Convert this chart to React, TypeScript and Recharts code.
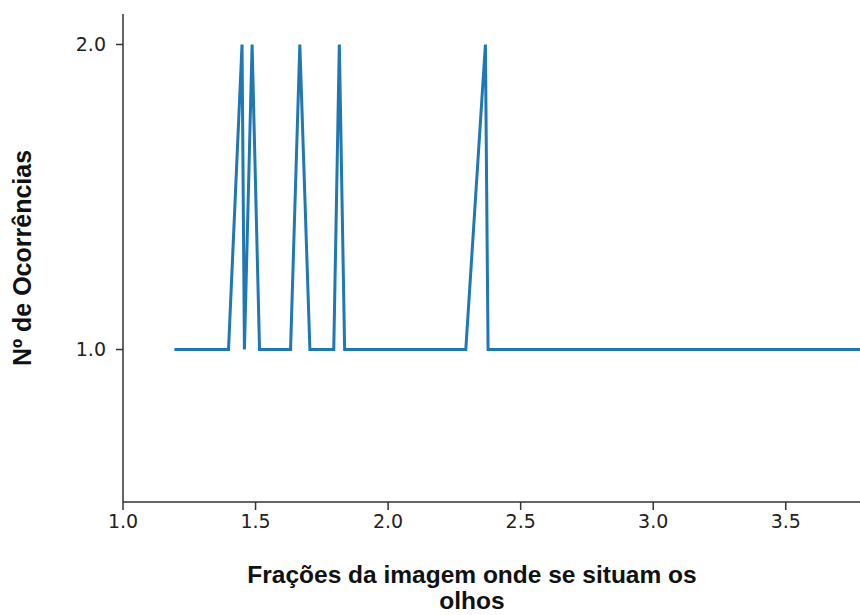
import { LineChart, Line, XAxis, YAxis, Label } from "recharts";

// fraction of the image where the eyes sit, and how often each occurred
const fractions = [
  1.194, 1.398, 1.449, 1.458, 1.487, 1.515, 1.632, 1.667, 1.705, 1.795, 1.816,
  1.836, 2.293, 2.367, 2.377, 4.0,
];
const occurrences = [1, 1, 2, 1, 2, 1, 1, 2, 1, 1, 2, 1, 1, 2, 1, 1];

const xTicks = [1.0, 1.5, 2.0, 2.5, 3.0, 3.5];
const yTicks = [1.0, 2.0];

const xLabelLines = ["Frações da imagem onde se situam os", "olhos"];
const yLabelText = "Nº de Ocorrências";

const data = fractions.map((x, i) => ({ x, y: occurrences[i] }));

const AXIS = "#333";
const TICK_FONT = { fontSize: 19, fill: "#222", fontFamily: "DejaVu Sans" };
const LABEL_FONT = "Liberation Sans, Arial, sans-serif";

function XTitle() {
  return (
    <text
      x={472}
      y={583}
      textAnchor="middle"
      fontFamily={LABEL_FONT}
      fontWeight="bold"
      fontSize={24.5}
      fill="#111"
    >
      {xLabelLines.map((line, i) => (
        <tspan key={i} x={472} dy={i === 0 ? 0 : 26}>
          {line}
        </tspan>
      ))}
    </text>
  );
}

function YTitle() {
  return (
    <text
      x={31}
      y={258}
      transform="rotate(-90 31 258)"
      textAnchor="middle"
      fontFamily={LABEL_FONT}
      fontWeight="bold"
      fontSize={25}
      fill="#111"
    >
      {yLabelText}
    </text>
  );
}

export default function App() {
  return (
    <div style={{ position: "absolute", left: 0, top: 0, background: "#fff" }}>
      <LineChart
        width={860}
        height={615}
        data={data}
        margin={{ top: 14, right: 0, left: 63, bottom: 83 }}
      >
        <XAxis
          dataKey="x"
          type="number"
          domain={[1, 3.78]}
          allowDataOverflow
          ticks={xTicks}
          tickFormatter={(v: number) => v.toFixed(1)}
          height={30}
          tickSize={8}
          tickMargin={5}
          stroke={AXIS}
          strokeWidth={1.5}
          tick={TICK_FONT}
        >
          <Label content={<XTitle />} />
        </XAxis>
        <XAxis
          xAxisId="top"
          orientation="top"
          type="number"
          domain={[1, 3.78]}
          height={0}
          tick={false}
          tickLine={false}
          stroke={AXIS}
          strokeWidth={1.5}
        />
        <YAxis
          dataKey="y"
          type="number"
          domain={[0.5, 2.1]}
          allowDataOverflow
          ticks={yTicks}
          tickFormatter={(v: number) => v.toFixed(1)}
          width={60}
          tickSize={7}
          tickMargin={10}
          stroke={AXIS}
          strokeWidth={1.5}
          tick={TICK_FONT}
        >
          <Label content={<YTitle />} />
        </YAxis>
        <Line
          type="linear"
          dataKey="y"
          stroke="#1f77b4"
          strokeWidth={3}
          dot={false}
          isAnimationActive={false}
        />
      </LineChart>
    </div>
  );
}
